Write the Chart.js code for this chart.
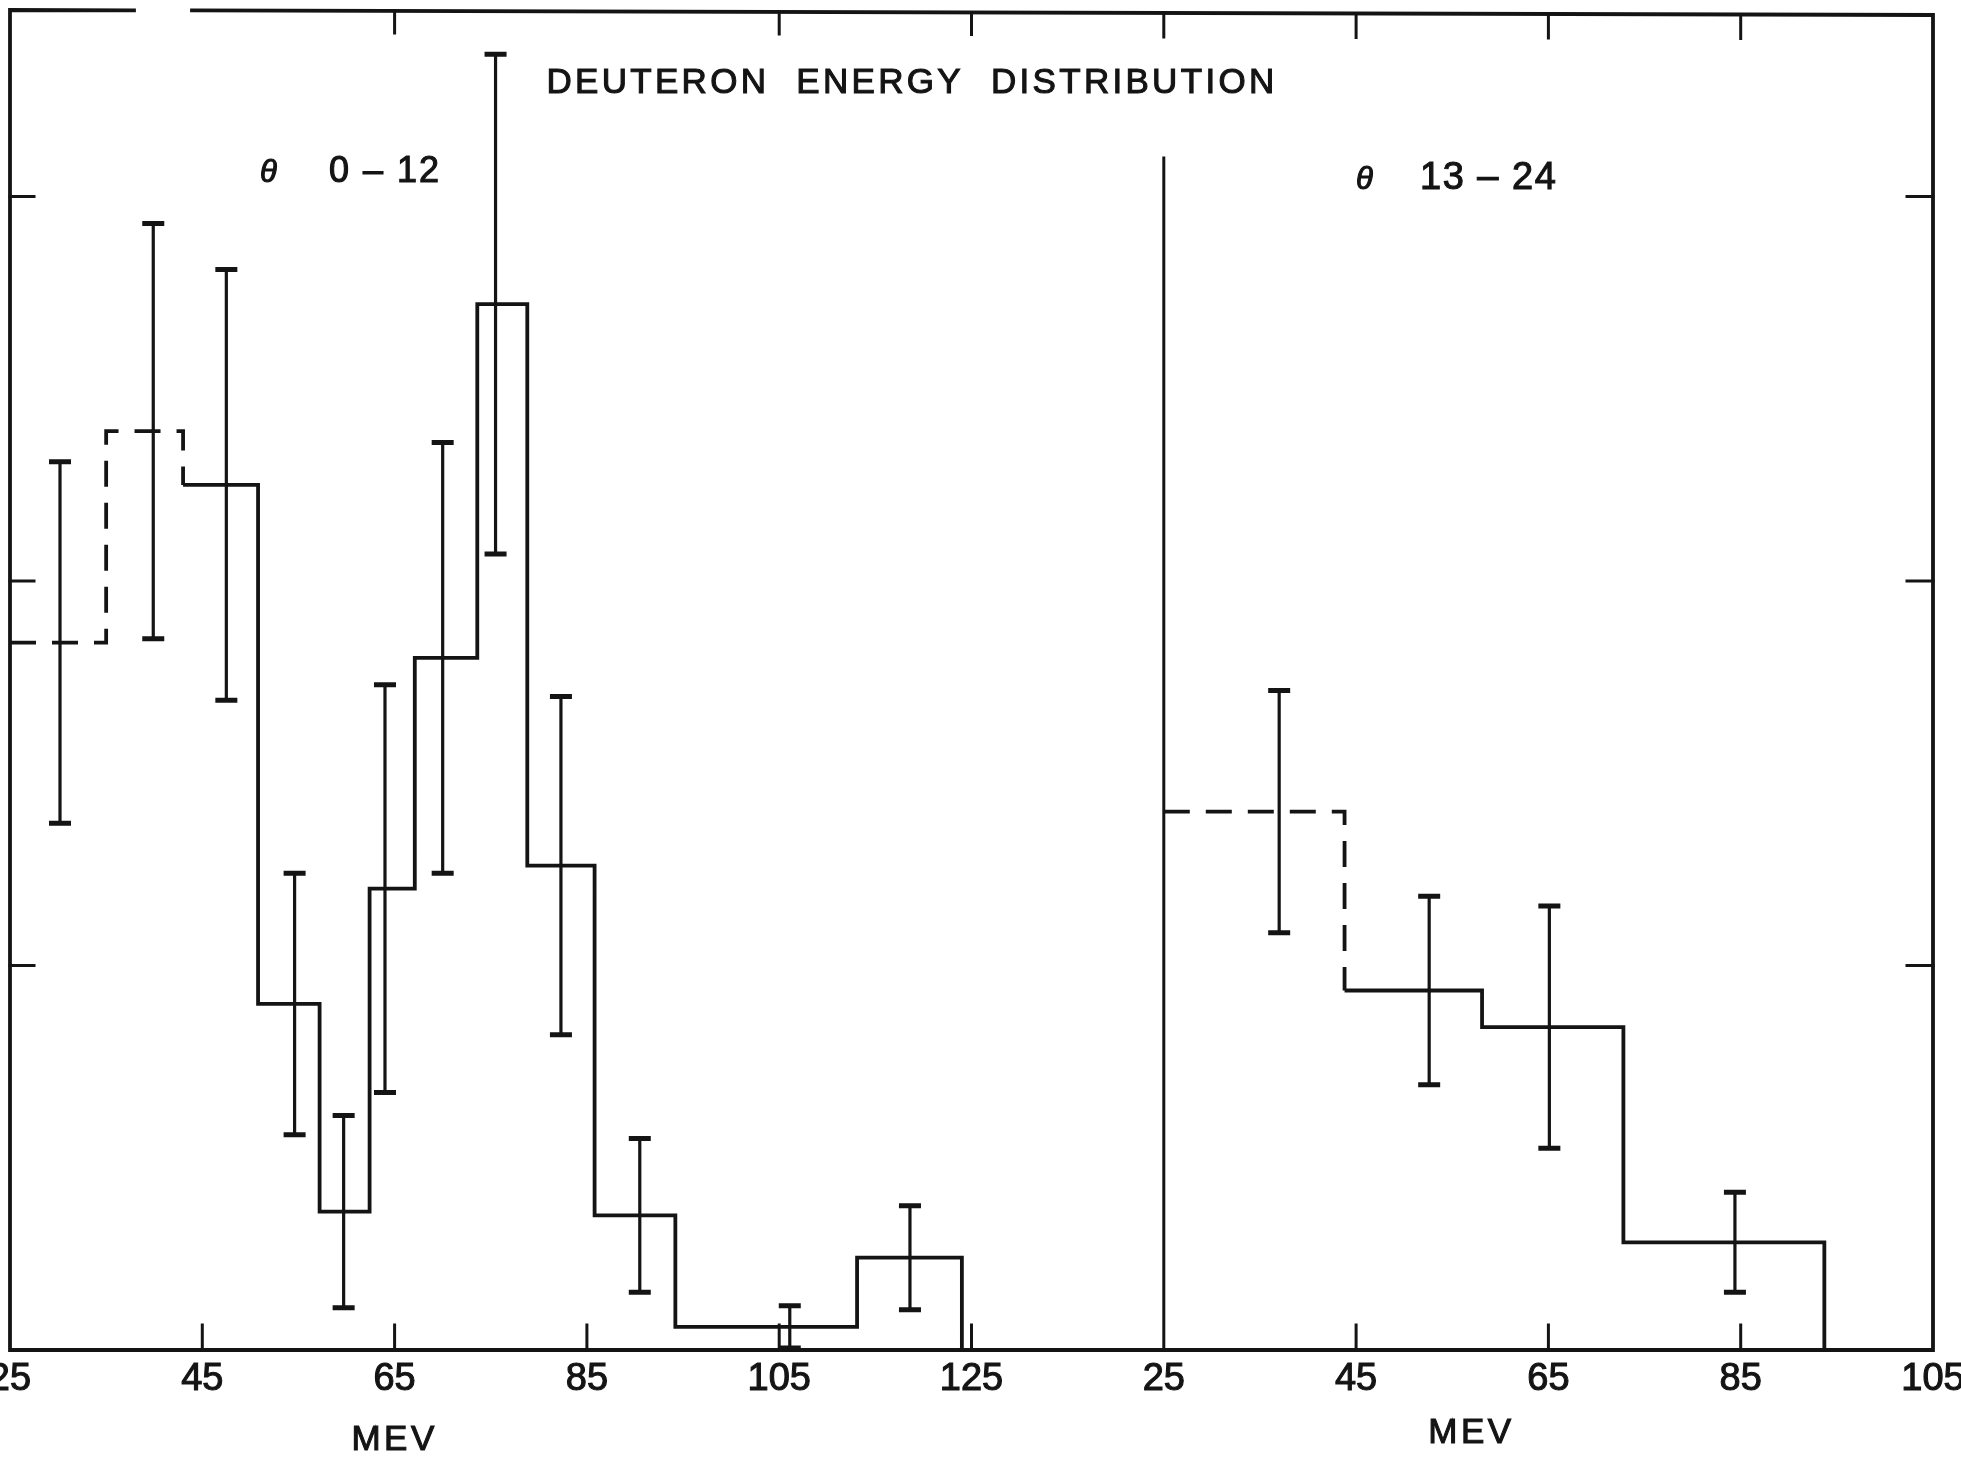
<!DOCTYPE html>
<html>
<head>
<meta charset="utf-8">
<title>Deuteron Energy Distribution</title>
<script src="https://cdn.jsdelivr.net/npm/chart.js@4.4.1/dist/chart.umd.min.js"></script>
<style>
  html, body { margin: 0; padding: 0; background: #fff; overflow: hidden; }
  #wrap { position: absolute; left: -40px; top: 0; width: 2041px; height: 1462px; }
</style>
</head>
<body>
<div id="wrap"><canvas id="deuteronChart" width="2041" height="1462"></canvas></div>
<script>
// theta 0-12 panel (bin edges in MeV, counts, error bar positions and half widths)
const leftEdges = [25, 35.0, 43.0, 50.8, 57.2, 62.4, 67.1, 73.6, 78.8, 85.8, 94.2, 113.1, 124.0];
const leftCounts = [18.4, 23.9, 22.5, 9.0, 3.6, 12.0, 18.0, 27.2, 12.6, 3.5, 0.6, 2.4];
const leftErrE = [30.2, 39.9, 47.5, 54.6, 59.7, 64.0, 70.0, 75.5, 82.3, 90.5, 106.1, 118.6];
const leftErr = [4.7, 5.4, 5.6, 3.4, 2.5, 5.3, 5.6, 6.5, 4.4, 2.0, 0.55, 1.35];
const leftDashedBins = 2;

// theta 13-24 panel
const rightEdges = [25, 43.8, 58.1, 72.8, 93.7];
const rightCounts = [14.0, 9.35, 8.4, 2.8];
const rightErrE = [37.0, 52.6, 65.1, 84.4];
const rightErr = [3.15, 2.45, 3.15, 1.3];
const rightDashedBins = 1;

// axis ticks
const leftTickLabels = [25, 45, 65, 85, 105, 125];
const rightTickLabels = [25, 45, 65, 85, 105];
const yTickValues = [10, 20, 30];
const topTicksLeft = [65, 105, 125];
const topTicksRight = [25, 45, 65, 85];
const bottomTicksLeft = [45, 65, 85, 105, 125];
const bottomTicksRight = [45, 65, 85];

const PANEL_SHIFT = 120; // right panel sits after the left one on one shared axis
const Y_MAX = 34.8;
const DIVIDER_TOP = 31;
const INK = "#141414";
const FONT = "'Liberation Sans', Arial, sans-serif";

function stepLine(edges, counts, first, last, shift) {
  const pts = [];
  for (let i = first; i < last; i++) {
    pts.push({ x: edges[i] + shift, y: counts[i] });
    pts.push({ x: edges[i + 1] + shift, y: counts[i] });
  }
  if (last < counts.length) pts.push({ x: edges[last] + shift, y: counts[last] });
  else pts.push({ x: edges[last] + shift, y: 0 });
  return pts;
}

function histSet(data, dashed) {
  return {
    data: data,
    borderColor: INK,
    borderWidth: 3.8,
    borderDash: dashed ? [26, 16] : [],
    pointRadius: 0,
    tension: 0,
    fill: false,
  };
}

// inked text: fill plus a thin stroke, closer to the pen lettering
function ink(ctx, text, x, y) {
  ctx.fillText(text, x, y);
  ctx.strokeText(text, x, y);
}

const framePlugin = {
  id: "frame",
  afterDatasetsDraw(chart) {
    const { ctx, chartArea: a, scales } = chart;
    const x = scales.x, y = scales.y;
    const topY = (px) => a.top - 2 + (5 * (px - a.left)) / (a.right - a.left);
    ctx.save();
    ctx.strokeStyle = INK;
    ctx.lineCap = "square";
    ctx.lineWidth = 3.8;

    // box, with the break in the top edge
    ctx.beginPath();
    ctx.moveTo(a.left, a.bottom);
    ctx.lineTo(a.left, topY(a.left));
    ctx.lineTo(a.left + 124, topY(a.left + 124));
    ctx.moveTo(a.left + 182, topY(a.left + 182));
    ctx.lineTo(a.right, topY(a.right));
    ctx.lineTo(a.right, a.bottom);
    ctx.lineTo(a.left, a.bottom);
    ctx.stroke();

    // panel divider
    const xd = x.getPixelForValue(25 + PANEL_SHIFT);
    ctx.lineWidth = 3;
    ctx.beginPath();
    ctx.moveTo(xd, y.getPixelForValue(DIVIDER_TOP));
    ctx.lineTo(xd, a.bottom);
    ctx.stroke();

    // inner tick marks
    ctx.lineWidth = 3;
    ctx.beginPath();
    bottomTicksLeft.forEach((v) => {
      const px = x.getPixelForValue(v);
      ctx.moveTo(px, a.bottom); ctx.lineTo(px, a.bottom - 25);
    });
    bottomTicksRight.forEach((v) => {
      const px = x.getPixelForValue(v + PANEL_SHIFT);
      ctx.moveTo(px, a.bottom); ctx.lineTo(px, a.bottom - 25);
    });
    topTicksLeft.forEach((v) => {
      const px = x.getPixelForValue(v);
      ctx.moveTo(px, topY(px)); ctx.lineTo(px, topY(px) + 22);
    });
    topTicksRight.forEach((v) => {
      const px = x.getPixelForValue(v + PANEL_SHIFT);
      ctx.moveTo(px, topY(px)); ctx.lineTo(px, topY(px) + 24);
    });
    yTickValues.forEach((v) => {
      const py = y.getPixelForValue(v);
      ctx.moveTo(a.left, py); ctx.lineTo(a.left + 24, py);
      ctx.moveTo(a.right, py); ctx.lineTo(a.right - 26, py);
    });
    ctx.stroke();
    ctx.restore();
  },
};

const errorBarPlugin = {
  id: "errorBars",
  afterDatasetsDraw(chart) {
    const { ctx, scales } = chart;
    const x = scales.x, y = scales.y;
    const panels = [
      { pos: leftErrE, val: leftCounts, err: leftErr, shift: 0 },
      { pos: rightErrE, val: rightCounts, err: rightErr, shift: PANEL_SHIFT },
    ];
    ctx.save();
    ctx.strokeStyle = INK;
    panels.forEach((p) => {
      p.pos.forEach((e, i) => {
        const px = x.getPixelForValue(e + p.shift);
        const hi = y.getPixelForValue(p.val[i] + p.err[i]);
        const lo = y.getPixelForValue(Math.max(0, p.val[i] - p.err[i]));
        ctx.lineWidth = 3.2;
        ctx.beginPath();
        ctx.moveTo(px, hi); ctx.lineTo(px, lo);
        ctx.stroke();
        ctx.lineWidth = 5;
        ctx.beginPath();
        ctx.moveTo(px - 11, hi); ctx.lineTo(px + 11, hi);
        ctx.moveTo(px - 11, lo); ctx.lineTo(px + 11, lo);
        ctx.stroke();
      });
    });
    ctx.restore();
  },
};

const textPlugin = {
  id: "texts",
  afterDraw(chart) {
    const { ctx, chartArea: a, scales } = chart;
    const x = scales.x;
    ctx.save();
    ctx.fillStyle = INK;
    ctx.strokeStyle = INK;
    ctx.lineWidth = 1.1;
    ctx.textBaseline = "alphabetic";

    ctx.font = "35px " + FONT;
    ctx.textAlign = "center";
    ctx.letterSpacing = "3.3px";
    ctx.wordSpacing = "14px";
    ink(ctx, "DEUTERON ENERGY DISTRIBUTION", a.left + 902, a.top + 81);
    ctx.wordSpacing = "0px";

    // panel labels
    ctx.textAlign = "left";
    ctx.letterSpacing = "0px";
    ctx.font = "italic 31px " + FONT;
    ink(ctx, "θ", a.left + 250, a.top + 170);
    ink(ctx, "θ", a.left + 1346, a.top + 177);
    ctx.letterSpacing = "2px";
    ctx.font = "36px " + FONT;
    ink(ctx, "0 – 12", a.left + 319, a.top + 170);
    ctx.letterSpacing = "1.5px";
    ctx.font = "38px " + FONT;
    ink(ctx, "13 – 24", a.left + 1410, a.top + 177);

    // axis titles
    ctx.textAlign = "center";
    ctx.letterSpacing = "3.5px";
    ctx.font = "35px " + FONT;
    ink(ctx, "MEV", x.getPixelForValue(65), a.bottom + 100);
    ink(ctx, "MEV", x.getPixelForValue(57 + PANEL_SHIFT), a.bottom + 93);
    ctx.restore();
  },
};

const chart = new Chart(document.getElementById("deuteronChart"), {
  type: "line",
  data: {
    datasets: [
      histSet(stepLine(leftEdges, leftCounts, 0, leftDashedBins, 0), true),
      histSet(stepLine(leftEdges, leftCounts, leftDashedBins, leftCounts.length, 0), false),
      histSet(stepLine(rightEdges, rightCounts, 0, rightDashedBins, PANEL_SHIFT), true),
      histSet(stepLine(rightEdges, rightCounts, rightDashedBins, rightCounts.length, PANEL_SHIFT), false),
    ],
  },
  options: {
    responsive: false,
    animation: false,
    devicePixelRatio: 1,
    layout: { padding: { left: 50, right: 68, top: 12, bottom: 0 } },
    plugins: { legend: { display: false }, tooltip: { enabled: false } },
    scales: {
      x: {
        type: "linear",
        min: 25,
        max: 105 + PANEL_SHIFT,
        grid: { display: false },
        border: { display: false },
        afterBuildTicks: (s) => {
          s.ticks = leftTickLabels
            .map((v) => ({ value: v }))
            .concat(rightTickLabels.map((v) => ({ value: v + PANEL_SHIFT })));
        },
        afterFit: (s) => {
          s.height = 112;
        },
        ticks: {
          autoSkip: false,
          maxRotation: 0,
          padding: -1,
          color: INK,
          textStrokeColor: INK,
          textStrokeWidth: 1.1,
          font: { family: FONT, size: 38 },
          callback: (v) => (v >= 25 + PANEL_SHIFT ? Math.round(v - PANEL_SHIFT) : Math.round(v)),
        },
      },
      y: { display: false, min: 0, max: Y_MAX },
    },
  },
  plugins: [framePlugin, errorBarPlugin, textPlugin],
});
</script>
</body>
</html>
